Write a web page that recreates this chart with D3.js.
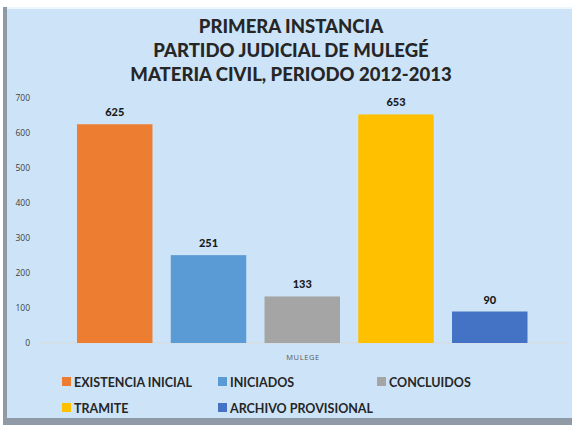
<!DOCTYPE html>
<html>
<head>
<meta charset="utf-8">
<script src="https://cdn.jsdelivr.net/npm/d3@7"></script>
<style>
  html, body { margin: 0; padding: 0; background: #ffffff; }
  svg { display: block; }
</style>
</head>
<body>
<svg id="chart" width="572" height="425"></svg>
<script>
// chart data
var categories = ["EXISTENCIA INICIAL", "INICIADOS", "CONCLUIDOS", "TRAMITE", "ARCHIVO PROVISIONAL"];
var values = [625, 251, 133, 653, 90];
var colors = ["#ED7D31", "#5B9BD5", "#A5A5A5", "#FFC000", "#4472C4"];
var yTicks = [0, 100, 200, 300, 400, 500, 600, 700];
var titleLines = ["PRIMERA INSTANCIA", "PARTIDO JUDICIAL DE MULEGÉ", "MATERIA CIVIL, PERIODO 2012-2013"];
var groupLabel = "MULEGE";

var svg = d3.select("#chart"),
    width = +svg.attr("width"),
    height = +svg.attr("height");

// panel with a soft shadow on left / bottom
svg.append("rect").attr("x", 3).attr("y", 7).attr("width", width - 3).attr("height", 418)
    .style("fill", "#8f9aa6");
svg.append("rect").attr("x", 7).attr("y", 7).attr("width", width - 7).attr("height", 411)
    .style("fill", "#cde4f8");
svg.append("rect").attr("x", 7).attr("y", 7).attr("width", width - 7).attr("height", 2)
    .style("fill", "#eef6fd");

// title
svg.append("g").selectAll("text").data(titleLines).enter().append("text")
    .attr("x", 291)
    .attr("y", function(d, i){ return 33 + i * 24; })
    .attr("text-anchor", "middle")
    .style("font-family", "Lato, 'Open Sans', sans-serif")
    .style("font-weight", "900")
    .style("font-size", "18.5px")
    .style("fill", "#262626")
    .text(function(d){ return d; });

// scales
var y = d3.scaleLinear().domain([0, 700]).range([343, 98]);
var x = d3.scaleBand().domain(categories).range([77, 527.5]).paddingInner(0.195).paddingOuter(0);

// y axis labels (no line)
var yAxis = svg.append("g").attr("transform", "translate(30,0)")
    .call(d3.axisLeft(y).tickValues(yTicks).tickSize(0).tickPadding(0));
yAxis.select(".domain").remove();
yAxis.selectAll("text")
    .style("font-family", "'Open Sans', sans-serif")
    .style("font-size", "8.5px")
    .style("fill", "#404040");

// baseline
svg.append("line").attr("x1", 38).attr("x2", 567).attr("y1", y(0)).attr("y2", y(0))
    .style("stroke", "#d9d9d9").style("stroke-width", 1);

// bars
svg.append("g").selectAll("rect").data(values).enter().append("rect")
    .attr("x", function(d, i){ return x(categories[i]); })
    .attr("y", function(d){ return y(d); })
    .attr("width", x.bandwidth())
    .attr("height", function(d){ return y(0) - y(d); })
    .style("fill", function(d, i){ return colors[i]; });

// value labels
svg.append("g").selectAll("text").data(values).enter().append("text")
    .attr("x", function(d, i){ return x(categories[i]) + x.bandwidth() / 2; })
    .attr("y", function(d){ return y(d) - 8; })
    .attr("text-anchor", "middle")
    .style("font-family", "Lato, 'Open Sans', sans-serif")
    .style("font-weight", "900")
    .style("font-size", "11px")
    .style("fill", "#1a1a1a")
    .text(function(d){ return d; });

// category label
svg.append("text").attr("x", 303).attr("y", 360).attr("text-anchor", "middle")
    .style("font-family", "'Open Sans', sans-serif")
    .style("font-size", "7.5px")
    .style("letter-spacing", "0.6px")
    .style("fill", "#595959")
    .text(groupLabel);

// legend
var legendPos = [[62, 382], [218, 382], [377, 382], [62, 408], [218, 408]];
var legend = svg.append("g").selectAll("g").data(categories).enter().append("g")
    .attr("transform", function(d, i){ return "translate(" + legendPos[i][0] + "," + legendPos[i][1] + ")"; });
legend.append("rect").attr("x", 0).attr("y", -5).attr("width", 9).attr("height", 9)
    .style("fill", function(d, i){ return colors[i]; });
legend.append("text").attr("x", 12).attr("y", 4.5)
    .style("font-family", "Lato, 'Open Sans', sans-serif")
    .style("font-weight", "bold")
    .style("font-size", "12.5px")
    .style("fill", "#262626")
    .text(function(d){ return d; });
</script>
</body>
</html>
